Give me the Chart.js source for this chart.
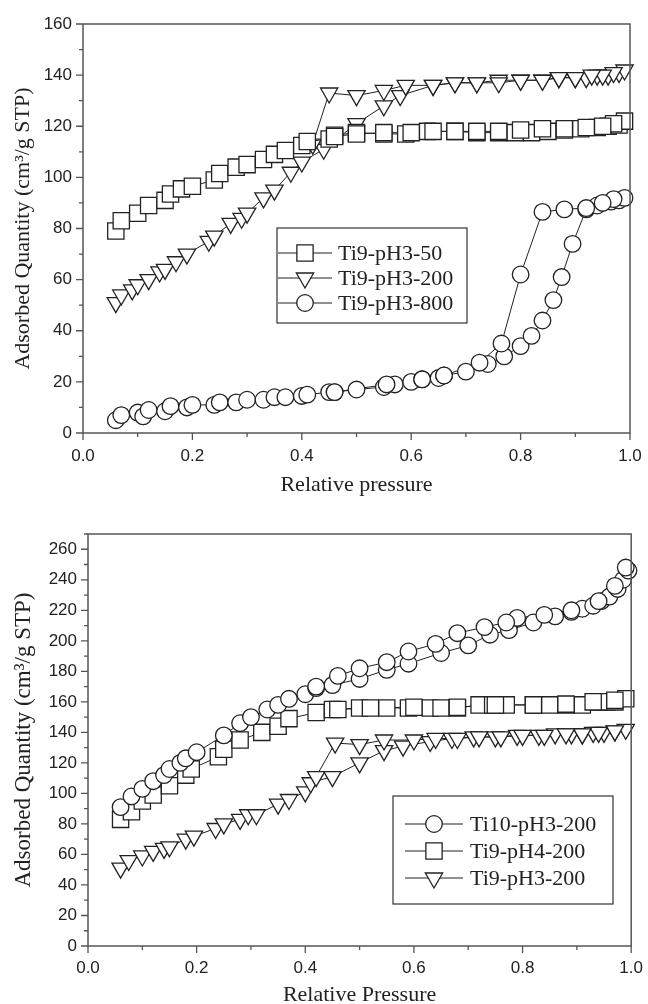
<!DOCTYPE html>
<html lang="en">
<head>
<meta charset="UTF-8">
<title>Adsorption isotherms</title>
<style>
    body {
        margin: 0;
        background: #fff;
        overflow: hidden;
    }
    .plot {
        position: absolute;
        left: 0;
        width: 648px;
    }
    #top { top: 0; height: 500px; }
    #bottom { top: 500px; height: 504px; }
</style>
</head>
<body>
<div class="plot" id="top"><canvas id="chartTop" width="648" height="500"></canvas></div>
<div class="plot" id="bottom"><canvas id="chartBottom" width="648" height="504"></canvas></div>
<script src="https://cdn.jsdelivr.net/npm/chart.js"></script>
<script>
// ---- top panel: Ti9-pH3 calcined at 50 / 200 / 800 ----
const p50 = [0.06, 0.07, 0.10, 0.12, 0.15, 0.16, 0.18, 0.20, 0.24, 0.25, 0.28, 0.30, 0.33, 0.35, 0.37, 0.40, 0.41, 0.45, 0.46, 0.50, 0.55, 0.59, 0.63, 0.68, 0.72, 0.76, 0.79, 0.82, 0.85, 0.88, 0.91, 0.94, 0.96, 0.98, 0.99,
             0.97, 0.95, 0.92, 0.88, 0.84, 0.80, 0.76, 0.72, 0.68, 0.64, 0.60, 0.55, 0.50, 0.46];
const q50 = [79, 83, 86, 89, 91, 93.5, 95.5, 96.5, 99, 101.5, 104, 105, 107, 109, 110.5, 112.5, 114, 115, 116.5, 117.5, 117, 117, 118, 118, 117.5, 117.5, 117.5, 117.5, 118, 118.5, 119, 119.5, 120, 120.5, 122,
             121, 120, 119.5, 119, 119, 118.5, 118, 118, 118, 118, 117.5, 117.5, 117, 116];

const p200 = [0.06, 0.07, 0.09, 0.10, 0.12, 0.14, 0.15, 0.17, 0.19, 0.23, 0.24, 0.27, 0.29, 0.30, 0.33, 0.35, 0.38, 0.40, 0.44, 0.50, 0.55, 0.58, 0.64, 0.68, 0.72, 0.76, 0.80, 0.84, 0.87, 0.90, 0.92, 0.94, 0.96, 0.98, 0.99,
              0.97, 0.95, 0.93, 0.90, 0.87, 0.84, 0.80, 0.76, 0.72, 0.68, 0.64, 0.59, 0.55, 0.50, 0.45, 0.42];
const q200 = [51, 54, 56, 58, 60, 63, 64, 67, 70, 75, 77, 82, 84, 86, 92, 95, 102, 106, 111, 121, 128, 132, 136, 137, 137, 138, 138, 138, 139, 139, 139, 140, 140, 141, 142,
              141, 140, 140, 139, 139, 138, 138, 137, 137, 137, 136, 136, 134, 132, 133, 113];

const p800 = [0.06, 0.07, 0.10, 0.11, 0.12, 0.15, 0.16, 0.19, 0.20, 0.24, 0.25, 0.28, 0.30, 0.33, 0.35, 0.37, 0.40, 0.41, 0.45, 0.46, 0.50, 0.55, 0.57, 0.60, 0.62, 0.65, 0.66, 0.70, 0.74, 0.77, 0.80, 0.82, 0.84, 0.86, 0.875, 0.895, 0.92, 0.94, 0.965, 0.98, 0.99,
              0.97, 0.95, 0.92, 0.88, 0.84, 0.80, 0.765, 0.725, 0.66, 0.62, 0.555, 0.46];
const q800 = [5, 7, 8, 6.5, 9, 8.5, 10.5, 10, 11, 11, 12, 12, 13, 13, 14, 14, 14.5, 15, 16, 16, 17, 18, 19, 20, 21, 21.5, 22.5, 24, 27, 30, 34, 38, 44, 52, 61, 74, 87.5, 89, 90.5, 91, 92,
              91.5, 90, 88, 87.5, 86.5, 62, 35, 27.5, 22.5, 21, 19, 16];

// ---- bottom panel: Ti10-pH3-200 / Ti9-pH4-200 / Ti9-pH3-200 ----
const pTi10 = [0.06, 0.08, 0.10, 0.12, 0.14, 0.15, 0.17, 0.18, 0.20, 0.25, 0.28, 0.30, 0.33, 0.35, 0.37, 0.40, 0.42, 0.45, 0.50, 0.55, 0.59, 0.65, 0.70, 0.74, 0.775, 0.82, 0.86, 0.89, 0.91, 0.93, 0.945, 0.96, 0.975, 0.985, 0.995,
               0.99, 0.97, 0.94, 0.89, 0.84, 0.79, 0.77, 0.73, 0.68, 0.64, 0.59, 0.55, 0.50, 0.46, 0.42];
const qTi10 = [91, 98, 103, 108, 112, 116, 120, 123, 127, 138, 146, 150, 155, 158, 162, 165, 169, 171, 175, 181, 185, 192, 197, 204, 207, 212, 216, 219, 221, 223, 226, 229, 234, 240, 246,
               248, 236, 226, 220, 217, 215, 212, 209, 205, 198, 193, 186, 182, 177, 170];

const pH4 = [0.06, 0.08, 0.10, 0.12, 0.15, 0.18, 0.19, 0.24, 0.25, 0.28, 0.32, 0.35, 0.37, 0.42, 0.45, 0.50, 0.55, 0.59, 0.63, 0.65, 0.68, 0.72, 0.745, 0.77, 0.82, 0.85, 0.88, 0.91, 0.94, 0.955, 0.97, 0.99,
             0.97, 0.93, 0.88, 0.82, 0.75, 0.68, 0.60, 0.52, 0.46];
const qH4 = [83, 88, 95, 99, 105, 112, 116, 124, 129, 135, 140, 144, 149, 153, 155, 156, 156, 156, 156, 156, 156, 158, 158, 158, 158, 158, 158, 158, 160, 160, 160, 162,
             161, 160, 158.5, 158, 158, 156.5, 156.5, 156, 155];

const pH3 = [0.06, 0.075, 0.10, 0.12, 0.14, 0.15, 0.18, 0.195, 0.235, 0.25, 0.28, 0.295, 0.31, 0.35, 0.37, 0.40, 0.41, 0.45, 0.50, 0.545, 0.58, 0.63, 0.67, 0.71, 0.75, 0.79, 0.83, 0.86, 0.89, 0.91, 0.93, 0.95, 0.97, 0.99,
             0.97, 0.94, 0.91, 0.88, 0.84, 0.80, 0.76, 0.72, 0.68, 0.64, 0.60, 0.545, 0.50, 0.455, 0.42];
const qH3 = [51, 56, 59, 62, 64, 65, 70, 72, 77, 80, 83, 86, 86, 93, 96, 101, 107, 111, 120, 128, 131, 134, 136, 137, 137, 138, 138, 139, 139, 139, 140, 140, 141, 142,
             141, 140, 139, 139, 138, 138, 137, 137, 136, 136, 135, 135, 132, 133, 111];

const yTitle = 'Adsorbed Quantity (cm\u00B3/g STP)';
const sansFont = '"Liberation Sans", Arial, sans-serif';
const serifFont = '"Liberation Serif", "Times New Roman", serif';
const ink = '#222';

const toPoints = (xs, ys) => xs.map((x, i) => ({ x: x, y: ys[i] }));

const marker = {
    square: { pointStyle: 'rect', radius: 11.5, rotation: 0 },
    circle: { pointStyle: 'circle', radius: 8.3, rotation: 0 },
    triangle: { pointStyle: 'triangle', radius: 10, rotation: 180 }
};

const makeDataset = (label, xs, ys, m) => ({
    label: label,
    data: toPoints(xs, ys),
    showLine: true,
    borderColor: ink,
    borderWidth: 1,
    tension: 0,
    clip: 14,
    pointStyle: m.pointStyle,
    pointRotation: m.rotation,
    pointRadius: m.radius,
    pointBorderWidth: 1.3,
    pointBorderColor: ink,
    pointBackgroundColor: '#fff'
});

// box + tick marks (major & minor) drawn from the scales
const framePlugin = {
    id: 'frame',
    afterDraw(chart) {
        const { ctx, chartArea: a, scales: { x, y } } = chart;
        ctx.save();
        ctx.strokeStyle = '#555';
        ctx.lineWidth = 1.5;
        ctx.strokeRect(a.left, a.top, a.right - a.left, a.bottom - a.top);
        ctx.lineWidth = 1.3;
        ctx.beginPath();
        for (let i = 0; i <= 10; i++) {
            const px = x.getPixelForValue(i / 10);
            const len = i % 2 === 0 ? 7 : 4;
            ctx.moveTo(px, a.bottom);
            ctx.lineTo(px, a.bottom + len);
        }
        for (let v = 0; v <= y.max; v += 10) {
            const py = y.getPixelForValue(v);
            const len = v % 20 === 0 ? 7 : 4;
            ctx.moveTo(a.left, py);
            ctx.lineTo(a.left - len, py);
        }
        ctx.stroke();
        ctx.restore();
    }
};

// legend in a framed box inside the plot
const boxLegendPlugin = {
    id: 'boxLegend',
    afterDatasetsDraw(chart, args, opts) {
        const ctx = chart.ctx;
        ctx.save();
        ctx.strokeStyle = '#333';
        ctx.lineWidth = 1.2;
        ctx.strokeRect(opts.left, opts.top, opts.width, opts.height);
        chart.data.datasets.forEach((ds, i) => {
            const y = opts.rows[i];
            ctx.strokeStyle = ink;
            ctx.lineWidth = 1;
            ctx.beginPath();
            ctx.moveTo(opts.lineFrom, y);
            ctx.lineTo(opts.lineTo, y);
            ctx.stroke();
            ctx.fillStyle = '#fff';
            ctx.lineWidth = 1.3;
            Chart.helpers.drawPoint(ctx, {
                pointStyle: ds.pointStyle,
                rotation: ds.pointRotation,
                radius: ds.pointRadius,
                borderWidth: 1.3
            }, (opts.lineFrom + opts.lineTo) / 2, y);
            ctx.fillStyle = ink;
            ctx.font = '22px ' + serifFont;
            ctx.textAlign = 'left';
            ctx.textBaseline = 'middle';
            ctx.fillText(ds.label, opts.textX, y + 1);
        });
        ctx.restore();
    }
};

function makeOptions(cfg) {
    return {
        responsive: false,
        animation: false,
        events: [],
        layout: { padding: { top: cfg.padTop, right: cfg.padRight, left: 0, bottom: 0 } },
        plugins: {
            legend: { display: false },
            tooltip: { enabled: false },
            boxLegend: cfg.legend
        },
        scales: {
            x: {
                type: 'linear',
                min: 0,
                max: 1,
                afterFit: (s) => { s.height = cfg.xHeight; },
                ticks: {
                    stepSize: 0.2,
                    padding: cfg.xTickPad,
                    maxRotation: 0,
                    color: ink,
                    font: { family: sansFont, size: 17 },
                    callback: (v) => v.toFixed(1)
                },
                grid: { drawOnChartArea: false, tickLength: 7, color: 'rgba(0,0,0,0)' },
                border: { display: false },
                title: {
                    display: true,
                    text: cfg.xTitle,
                    color: ink,
                    font: { family: serifFont, size: 22 },
                    padding: { top: 0, bottom: cfg.xTitlePad }
                }
            },
            y: {
                type: 'linear',
                min: 0,
                max: cfg.yMax,
                afterFit: (s) => { s.width = cfg.yWidth; },
                ticks: {
                    stepSize: 20,
                    includeBounds: false,
                    padding: 4,
                    color: ink,
                    font: { family: sansFont, size: 17 }
                },
                grid: { drawOnChartArea: false, tickLength: 7, color: 'rgba(0,0,0,0)' },
                border: { display: false },
                title: {
                    display: true,
                    text: yTitle,
                    color: ink,
                    font: { family: serifFont, size: cfg.yTitleSize },
                    padding: { top: cfg.yTitlePad, bottom: 0 }
                }
            }
        }
    };
}

new Chart(document.getElementById('chartTop'), {
    type: 'scatter',
    data: {
        datasets: [
            makeDataset('Ti9-pH3-50', p50, q50, marker.square),
            makeDataset('Ti9-pH3-200', p200, q200, marker.triangle),
            makeDataset('Ti9-pH3-800', p800, q800, marker.circle)
        ]
    },
    options: makeOptions({
        padTop: 24, padRight: 18, xHeight: 67, yWidth: 83, yMax: 160,
        xTickPad: 6, xTitle: 'Relative pressure', xTitlePad: 2,
        yTitleSize: 22, yTitlePad: 10,
        legend: { left: 277, top: 228, width: 190, height: 95, rows: [253, 278, 303], lineFrom: 278, lineTo: 332, textX: 338 }
    }),
    plugins: [framePlugin, boxLegendPlugin]
});

new Chart(document.getElementById('chartBottom'), {
    type: 'scatter',
    data: {
        datasets: [
            makeDataset('Ti10-pH3-200', pTi10, qTi10, marker.circle),
            makeDataset('Ti9-pH4-200', pH4, qH4, marker.square),
            makeDataset('Ti9-pH3-200', pH3, qH3, marker.triangle)
        ]
    },
    options: makeOptions({
        padTop: 34, padRight: 13, xHeight: 58, yWidth: 88, yMax: 270,
        xTickPad: 5, xTitle: 'Relative Pressure', xTitlePad: -4,
        yTitleSize: 23, yTitlePad: 10,
        legend: { left: 393, top: 296, width: 220, height: 108, rows: [324, 351, 378], lineFrom: 405, lineTo: 463, textX: 470 }
    }),
    plugins: [framePlugin, boxLegendPlugin]
});
</script>
</body>
</html>
